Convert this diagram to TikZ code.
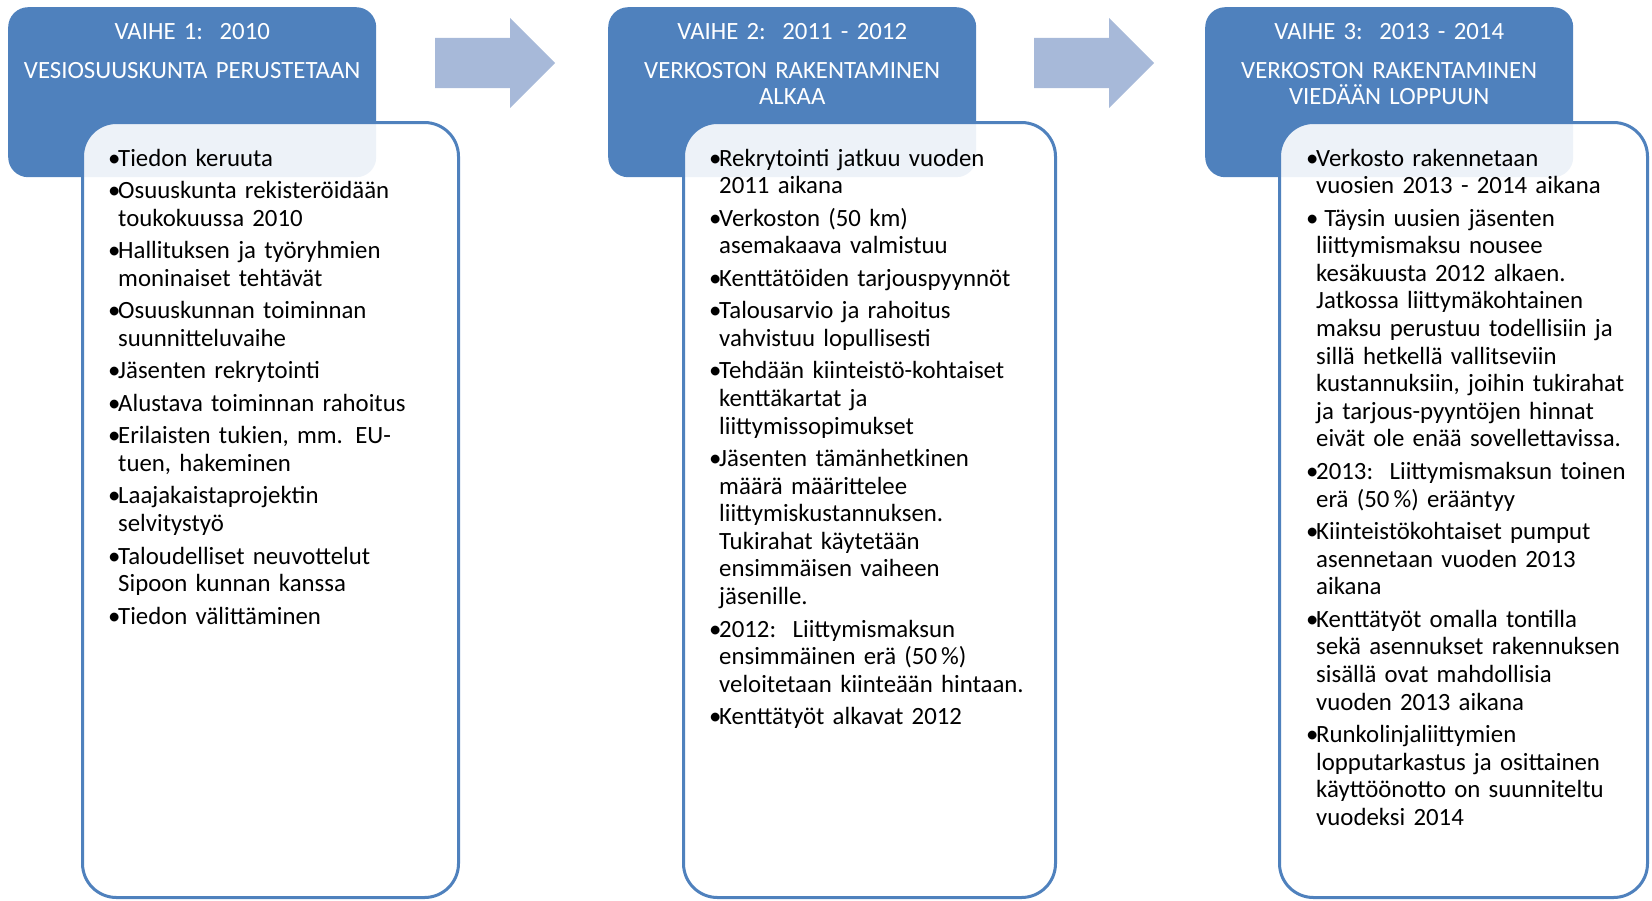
\documentclass[tikz,border=0pt]{standalone}
\usepackage{fontspec}
\setmainfont{Carlito}
\usepackage{tikz}
\usetikzlibrary{shapes.arrows,positioning}
\definecolor{phaseblue}{HTML}{4F81BD}
\definecolor{arrowblue}{HTML}{A7B9D9}
\newcommand{\itm}[1]{\hangindent=10pt\hangafter=1\noindent\makebox[10pt][l]{•}#1\par}
\tikzset{
  phasehead/.style={rectangle, rounded corners=20pt, fill=phaseblue, inner sep=0,
    minimum width=368pt, minimum height=170pt, anchor=north west},
  phasebox/.style={rectangle, rounded corners=34pt, draw=phaseblue, line width=3pt,
    fill=white, fill opacity=0.9, inner sep=0, minimum height=775pt, anchor=north west},
  phasetitle/.style={text=white, font=\fontsize{24.8pt}{26pt}\selectfont, anchor=base,
    inner sep=0, text width=366pt, align=center},
  phasetext/.style={font=\fontsize{24.8pt}{27.6pt}\selectfont, anchor=base west,
    inner sep=0, text width=360pt},
  phasearrow/.style={single arrow, fill=arrowblue, inner xsep=0, inner ysep=25pt,
    minimum height=120pt, minimum width=90pt, single arrow head extend=20pt, anchor=tail}
}
\begin{document}
\begin{tikzpicture}[x=1pt,y=-1pt]
  \useasboundingbox (0,0) rectangle (1652,900);

  \node[phasehead] (head1) at (8,7) {};
  \node[phasehead] (head2) at (608,7) {};
  \node[phasehead] (head3) at (1205,7) {};

  \node[phasetitle] (title1) at ([yshift=-32pt]head1.north) {VAIHE 1:\ \ 2010};
  \node[phasetitle] (sub1) at ([yshift=-71pt]head1.north) {VESIOSUUSKUNTA PERUSTETAAN};
  \node[phasetitle] (title2) at ([yshift=-32pt]head2.north) {VAIHE 2:\ \ 2011 - 2012};
  \node[phasetitle] (sub2) at ([yshift=-71pt]head2.north) {VERKOSTON RAKENTAMINEN\\ALKAA};
  \node[phasetitle] (title3) at ([yshift=-32pt]head3.north) {VAIHE 3:\ \ 2013 - 2014};
  \node[phasetitle] (sub3) at ([yshift=-71pt]head3.north) {VERKOSTON RAKENTAMINEN\\VIEDÄÄN LOPPUUN};

  \node[phasebox, minimum width=376pt] (box1) at (81,121) {};
  \node[phasebox, minimum width=372pt] (box2) at (682,121) {};
  \node[phasebox, minimum width=368pt] (box3) at (1278,121) {};

  \node[phasearrow] (arr1) at (435,63) {};
  \node[phasearrow] (arr2) at (1034,63) {};

  \node[phasetext] (list1) at ([xshift=27pt,yshift=-45pt]box1.north west) {\setlength{\parskip}{4.9pt}%
    \itm{Tiedon keruuta}
    \itm{Osuuskunta rekisteröidään\newline toukokuussa 2010}
    \itm{Hallituksen ja työryhmien\newline moninaiset tehtävät}
    \itm{Osuuskunnan toiminnan\newline suunnitteluvaihe}
    \itm{Jäsenten rekrytointi}
    \itm{Alustava toiminnan rahoitus}
    \itm{Erilaisten tukien, mm. EU-\newline tuen, hakeminen}
    \itm{Laajakaistaprojektin\newline selvitystyö}
    \itm{Taloudelliset neuvottelut\newline Sipoon kunnan kanssa}
    \itm{Tiedon välittäminen}};

  \node[phasetext] (list2) at ([xshift=27pt,yshift=-45pt]box2.north west) {\setlength{\parskip}{4.9pt}%
    \itm{Rekrytointi jatkuu vuoden\newline 2011 aikana}
    \itm{Verkoston (50 km)\newline asemakaava valmistuu}
    \itm{Kenttätöiden tarjouspyynnöt}
    \itm{Talousarvio ja rahoitus\newline vahvistuu lopullisesti}
    \itm{Tehdään kiinteistö-kohtaiset\newline kenttäkartat ja\newline liittymissopimukset}
    \itm{Jäsenten tämänhetkinen\newline määrä määrittelee\newline liittymiskustannuksen.\newline Tukirahat käytetään\newline ensimmäisen vaiheen\newline jäsenille.}
    \itm{2012:\ \ Liittymismaksun\newline ensimmäinen erä (50\,\%)\newline veloitetaan kiinteään hintaan.}
    \itm{Kenttätyöt alkavat 2012}};

  \node[phasetext] (list3) at ([xshift=28pt,yshift=-45pt]box3.north west) {\setlength{\parskip}{4.9pt}%
    \itm{Verkosto rakennetaan\newline vuosien 2013 - 2014 aikana}
    \itm{ Täysin uusien jäsenten\newline liittymismaksu nousee\newline kesäkuusta 2012 alkaen.\newline Jatkossa liittymäkohtainen\newline maksu perustuu todellisiin ja\newline sillä hetkellä vallitseviin\newline kustannuksiin, joihin tukirahat\newline ja tarjous-pyyntöjen hinnat\newline eivät ole enää sovellettavissa.}
    \itm{2013:\ \ Liittymismaksun toinen\newline erä (50\,\%) erääntyy}
    \itm{Kiinteistökohtaiset pumput\newline asennetaan vuoden 2013\newline aikana}
    \itm{Kenttätyöt omalla tontilla\newline sekä asennukset rakennuksen\newline sisällä ovat mahdollisia\newline vuoden 2013 aikana}
    \itm{Runkolinjaliittymien\newline lopputarkastus ja osittainen\newline käyttöönotto on suunniteltu\newline vuodeksi 2014}};
\end{tikzpicture}
\end{document}
